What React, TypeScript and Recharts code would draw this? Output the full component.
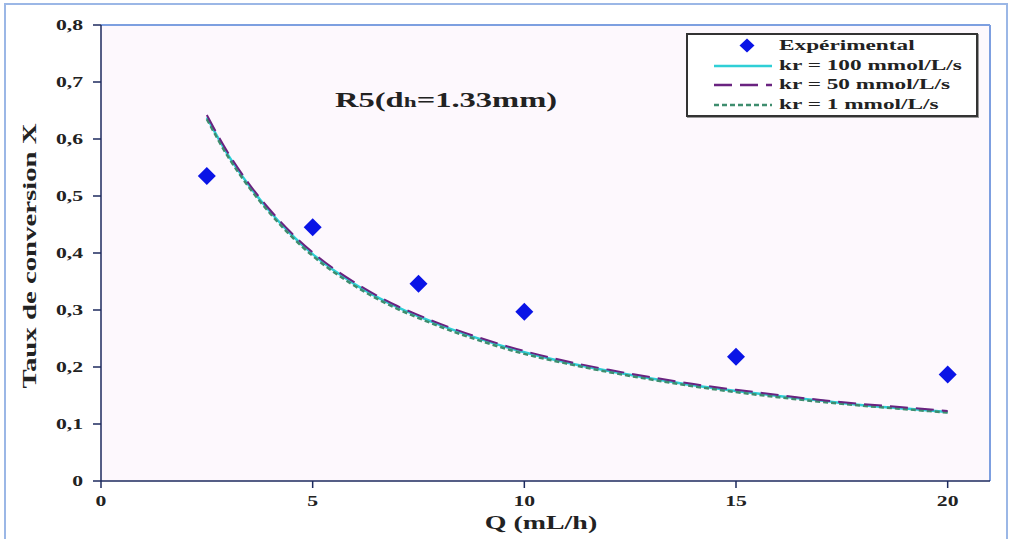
import {
    ComposedChart,
    Line,
    Scatter,
    XAxis,
    YAxis,
    CartesianGrid,
    ReferenceLine,
} from "recharts";

// Q (mL/h) of the experimental points
const expQ = [2.5, 5, 7.5, 10, 15, 20];
const expX = [0.535, 0.445, 0.346, 0.297, 0.218, 0.187];

// model curves
const modelQ = [2.5, 3, 3.5, 4, 4.5, 5, 6, 7, 7.5, 8, 9, 10, 11, 12, 13, 14, 15, 16, 17, 18, 19, 20];
const kr100 = [0.638, 0.572, 0.518, 0.472, 0.432, 0.398, 0.345, 0.305, 0.289, 0.274, 0.248, 0.226, 0.208, 0.193, 0.18, 0.168, 0.158, 0.149, 0.141, 0.133, 0.127, 0.121];
const kr50 = [0.642, 0.576, 0.521, 0.475, 0.435, 0.401, 0.348, 0.307, 0.291, 0.276, 0.25, 0.228, 0.21, 0.195, 0.182, 0.17, 0.16, 0.151, 0.142, 0.135, 0.129, 0.123];
const kr1 = [0.635, 0.569, 0.515, 0.469, 0.429, 0.395, 0.342, 0.302, 0.286, 0.271, 0.245, 0.223, 0.206, 0.191, 0.178, 0.166, 0.156, 0.147, 0.139, 0.132, 0.126, 0.12];

const xTicks = [0, 5, 10, 15, 20];
const yTicks = [0, 0.1, 0.2, 0.3, 0.4, 0.5, 0.6, 0.7, 0.8];

const toPoints = (xs: number[], ys: number[]) => xs.map((x, i) => ({ x, y: ys[i] }));

const serif = "'Liberation Serif', 'DejaVu Serif', serif";
const axisColor = "#1c2a5e";
const textColor = "#222";
// the source picture is stretched along the text direction
const stretch = 1.55;

const Diamond = (props: any) => {
    const { cx, cy } = props;
    const r = 9;
    return (
        <polygon
            points={`${cx},${cy - r} ${cx + r},${cy} ${cx},${cy + r} ${cx - r},${cy}`}
            fill="#0a14e6"
        />
    );
};

const XTick = (props: any) => {
    const { x, y, payload } = props;
    return (
        <text
            transform={`translate(${x},${y + 16}) scale(${stretch},1)`}
            textAnchor="middle"
            fill={textColor}
            fontFamily={serif}
            fontWeight="bold"
            fontSize={14}
        >
            {payload.value}
        </text>
    );
};

const YTick = (props: any) => {
    const { x, y, payload } = props;
    const v = payload.value as number;
    return (
        <text
            transform={`translate(${x - 8},${y + 5}) scale(${stretch},1)`}
            textAnchor="end"
            fill={textColor}
            fontFamily={serif}
            fontWeight="bold"
            fontSize={14}
        >
            {v === 0 ? "0" : v.toFixed(1).replace(".", ",")}
        </text>
    );
};

const legendItems = [
    { label: "Expérimental", kind: "marker", color: "#0a14e6", dash: "" },
    { label: "kr = 100 mmol/L/s", kind: "line", color: "#2fcfd6", dash: "" },
    { label: "kr = 50 mmol/L/s", kind: "line", color: "#6a2380", dash: "18 8" },
    { label: "kr = 1 mmol/L/s", kind: "line", color: "#3e8d6e", dash: "5 3" },
];

const LegendBox = () => (
    <div
        style={{
            position: "absolute",
            left: 686,
            top: 33,
            width: 288,
            height: 80,
            border: "2px solid #333",
            background: "#fff",
            boxShadow: "1px 1px 0 #999",
            fontFamily: serif,
            fontWeight: "bold",
            fontSize: 15,
            color: textColor,
        }}
    >
        {legendItems.map((it, i) => (
            <div key={it.label} style={{ position: "absolute", left: 0, top: 1 + i * 19.5, height: 19 }}>
                <svg width={90} height={19} style={{ position: "absolute", left: 0, top: 0 }}>
                    {it.kind === "marker" ? (
                        <polygon points="59,2.5 66.5,9.5 59,16.5 51.5,9.5" fill={it.color} />
                    ) : (
                        <line
                            x1={26}
                            x2={84}
                            y1={10}
                            y2={10}
                            stroke={it.color}
                            strokeWidth={2.5}
                            strokeDasharray={it.dash}
                        />
                    )}
                </svg>
                <span
                    style={{
                        position: "absolute",
                        left: 91,
                        top: 0,
                        lineHeight: "19px",
                        whiteSpace: "nowrap",
                        transform: `scaleX(${stretch})`,
                        transformOrigin: "0 0",
                    }}
                >
                    {it.label}
                </span>
            </div>
        ))}
    </div>
);

export default function App() {
    return (
        <div
            style={{
                position: "absolute",
                left: 0,
                top: 0,
                width: 1011,
                height: 539,
                overflow: "hidden",
                background: "#fff",
            }}
        >
            <div
                style={{
                    position: "absolute",
                    left: 4,
                    top: 3,
                    width: 1000,
                    height: 560,
                    border: "2px solid #9bb7e6",
                }}
            />
            <ComposedChart
                width={1011}
                height={539}
                margin={{ top: 25, right: 21, bottom: 0, left: 0 }}
                style={{ position: "absolute", left: 0, top: 0 }}
            >
                <CartesianGrid horizontal={false} vertical={false} fill="#fdf8fd" />
                <XAxis
                    type="number"
                    dataKey="x"
                    domain={[0, 21]}
                    ticks={xTicks}
                    height={58}
                    tickSize={7}
                    stroke={axisColor}
                    strokeWidth={1.5}
                    tick={<XTick />}
                />
                <YAxis
                    type="number"
                    dataKey="y"
                    domain={[0, 0.8]}
                    ticks={yTicks}
                    width={101}
                    tickSize={8}
                    stroke={axisColor}
                    strokeWidth={1.5}
                    tick={<YTick />}
                />
                <ReferenceLine y={0.8} stroke="#7d9fe0" strokeWidth={2} />
                <ReferenceLine x={21} stroke="#7d9fe0" strokeWidth={2} />
                <Line
                    data={toPoints(modelQ, kr100)}
                    dataKey="y"
                    type="monotone"
                    stroke="#2fcfd6"
                    strokeWidth={2.5}
                    dot={false}
                    isAnimationActive={false}
                />
                <Line
                    data={toPoints(modelQ, kr1)}
                    dataKey="y"
                    type="monotone"
                    stroke="#3e8d6e"
                    strokeWidth={2.5}
                    strokeDasharray="5 3"
                    dot={false}
                    isAnimationActive={false}
                />
                <Line
                    data={toPoints(modelQ, kr50)}
                    dataKey="y"
                    type="monotone"
                    stroke="#6a2380"
                    strokeWidth={2}
                    strokeDasharray="18 8"
                    dot={false}
                    isAnimationActive={false}
                />
                <Scatter
                    data={toPoints(expQ, expX)}
                    dataKey="y"
                    shape={Diamond}
                    isAnimationActive={false}
                />
                <text
                    transform={`translate(36,256) rotate(-90) scale(1.6,1)`}
                    textAnchor="middle"
                    fill={textColor}
                    fontFamily={serif}
                    fontWeight="bold"
                    fontSize={18}
                >
                    Taux de conversion X
                </text>
                <text
                    transform={`translate(541,529) scale(${stretch},1)`}
                    textAnchor="middle"
                    fill={textColor}
                    fontFamily={serif}
                    fontWeight="bold"
                    fontSize={18}
                >
                    Q (mL/h)
                </text>
                <text
                    transform={`translate(335,107) scale(${stretch},1)`}
                    fill={textColor}
                    fontFamily={serif}
                    fontWeight="bold"
                    fontSize={21}
                >
                    R5(d<tspan fontSize={15}>h</tspan>=1.33mm)
                </text>
            </ComposedChart>
            <LegendBox />
        </div>
    );
}
